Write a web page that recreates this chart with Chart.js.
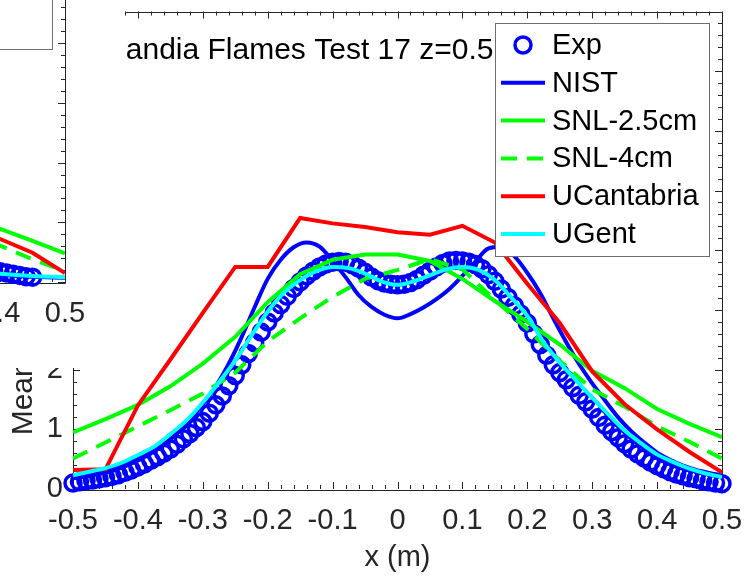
<!DOCTYPE html>
<html>
<head>
<meta charset="utf-8">
<title>Sandia Flames Test 17</title>
<script src="https://cdn.jsdelivr.net/npm/chart.js@4.4.1/dist/chart.umd.min.js"></script>
<style>
  body { margin: 0; background: #fff; }
  #page { position: relative; width: 746px; height: 576px; overflow: hidden; background: #fff; }
  #main { position: absolute; left: 0; top: 0; }
  #side { position: absolute; left: 0; top: 0; width: 125px; height: 368px; overflow: hidden; background: #fff; }
  #prev { position: absolute; left: -657px; top: -207px; }
</style>
</head>
<body>
<div id="page">
  <canvas id="main" width="746" height="576"></canvas>
  <div id="side"><canvas id="prev" width="746" height="576"></canvas></div>
</div>
<script>
// series labels, same for both panels
const seriesNames = ['Exp', 'NIST', 'SNL-2.5cm', 'SNL-4cm', 'UCantabria', 'UGent'];
const titleText = 'Sandia Flames Test 17 z=0.5 m';

// measured profile, z = 0.5 m
const expX = [-0.50, -0.49, -0.48, -0.47, -0.46, -0.45, -0.44, -0.43, -0.42, -0.41,
  -0.40, -0.39, -0.38, -0.37, -0.36, -0.35, -0.34, -0.33, -0.32, -0.31,
  -0.30, -0.29, -0.28, -0.27, -0.26, -0.25, -0.24, -0.23, -0.22, -0.21,
  -0.20, -0.19, -0.18, -0.17, -0.16, -0.15, -0.14, -0.13, -0.12, -0.11,
  -0.10, -0.09, -0.08, -0.07, -0.06, -0.05, -0.04, -0.03, -0.02, -0.01,
  0.00, 0.01, 0.02, 0.03, 0.04, 0.05, 0.06, 0.07, 0.08, 0.09,
  0.10, 0.11, 0.12, 0.13, 0.14, 0.15, 0.16, 0.17, 0.18, 0.19,
  0.20, 0.21, 0.22, 0.23, 0.24, 0.25, 0.26, 0.27, 0.28, 0.29,
  0.30, 0.31, 0.32, 0.33, 0.34, 0.35, 0.36, 0.37, 0.38, 0.39,
  0.40, 0.41, 0.42, 0.43, 0.44, 0.45, 0.46, 0.47, 0.48, 0.49, 0.50];
const expV = [0.10, 0.12, 0.14, 0.15, 0.17, 0.19, 0.21, 0.24, 0.28, 0.32,
  0.37, 0.42, 0.48, 0.54, 0.60, 0.67, 0.75, 0.84, 0.93, 1.03,
  1.13, 1.27, 1.41, 1.56, 1.73, 1.90, 2.08, 2.27, 2.45, 2.63,
  2.80, 2.95, 3.09, 3.23, 3.36, 3.47, 3.57, 3.65, 3.72, 3.77,
  3.80, 3.81, 3.80, 3.76, 3.70, 3.63, 3.55, 3.49, 3.45, 3.43,
  3.42, 3.43, 3.46, 3.51, 3.58, 3.65, 3.72, 3.78, 3.82, 3.83,
  3.82, 3.80, 3.76, 3.69, 3.59, 3.48, 3.35, 3.21, 3.07, 2.93,
  2.78, 2.60, 2.42, 2.24, 2.08, 1.95, 1.83, 1.70, 1.57, 1.46,
  1.34, 1.20, 1.07, 0.96, 0.86, 0.76, 0.67, 0.59, 0.52, 0.45,
  0.39, 0.34, 0.29, 0.25, 0.22, 0.19, 0.17, 0.14, 0.12, 0.10, 0.09];

const nistX = [-0.50, -0.48, -0.46, -0.44, -0.42, -0.40, -0.38, -0.36, -0.34, -0.32,
  -0.30, -0.28, -0.26, -0.24, -0.22, -0.20, -0.18, -0.16, -0.14, -0.12,
  -0.10, -0.08, -0.06, -0.04, -0.02, 0.00, 0.02, 0.04, 0.06, 0.08,
  0.10, 0.12, 0.14, 0.16, 0.18, 0.20, 0.22, 0.24, 0.26, 0.28,
  0.30, 0.32, 0.34, 0.36, 0.38, 0.40, 0.42, 0.44, 0.46, 0.48, 0.50];
const nistV = [0.18, 0.21, 0.25, 0.30, 0.38, 0.48, 0.60, 0.75, 0.93, 1.15,
  1.42, 1.72, 2.10, 2.55, 3.05, 3.52, 3.84, 4.05, 4.13, 4.06,
  3.82, 3.55, 3.25, 3.05, 2.92, 2.86, 2.93, 3.04, 3.18, 3.35,
  3.57, 3.81, 4.03, 4.06, 3.90, 3.62, 3.28, 2.86, 2.46, 2.09,
  1.77, 1.48, 1.20, 0.97, 0.78, 0.61, 0.49, 0.39, 0.32, 0.27, 0.23];

// SNL and UCantabria outputs share a 5 cm spacing
const coarseX = [-0.50, -0.45, -0.40, -0.35, -0.30, -0.25, -0.20, -0.15, -0.10, -0.05,
  0.00, 0.05, 0.10, 0.15, 0.20, 0.25, 0.30, 0.35, 0.40, 0.45, 0.50];
const snl25V = [0.95, 1.17, 1.41, 1.72, 2.10, 2.55, 3.13, 3.60, 3.84, 3.93,
  3.93, 3.82, 3.52, 3.15, 2.80, 2.42, 1.98, 1.69, 1.34, 1.09, 0.87];
const snl4V = [0.51, 0.78, 1.05, 1.32, 1.60, 1.95, 2.47, 2.86, 3.22, 3.52,
  3.67, 3.85, 3.68, 3.17, 2.68, 2.15, 1.67, 1.38, 1.05, 0.79, 0.51];
const ucanV = [0.32, 0.33, 1.40, 2.17, 2.95, 3.72, 3.72, 4.54, 4.45, 4.39,
  4.30, 4.26, 4.41, 4.13, 3.44, 2.78, 1.97, 1.42, 1.00, 0.62, 0.28];

const ugentX = [-0.500, -0.475, -0.450, -0.425, -0.400, -0.375, -0.350, -0.325, -0.300, -0.275,
  -0.250, -0.225, -0.200, -0.175, -0.150, -0.125, -0.100, -0.075, -0.050, -0.025,
  0.000, 0.025, 0.050, 0.075, 0.100, 0.125, 0.150, 0.175, 0.200, 0.225,
  0.250, 0.275, 0.300, 0.325, 0.350, 0.375, 0.400, 0.425, 0.450, 0.475, 0.500];
const ugentV = [0.23, 0.29, 0.35, 0.44, 0.57, 0.71, 0.92, 1.15, 1.45, 1.79,
  2.15, 2.57, 2.97, 3.29, 3.50, 3.65, 3.72, 3.70, 3.61, 3.48,
  3.42, 3.48, 3.58, 3.68, 3.72, 3.67, 3.50, 3.21, 2.90, 2.46,
  2.12, 1.82, 1.53, 1.25, 0.98, 0.77, 0.58, 0.45, 0.34, 0.26, 0.20];

// neighbouring panel, outer edge of its profile
const prevExpX = [0.38, 0.39, 0.40, 0.41, 0.42, 0.43, 0.44, 0.45];
const prevExpV = [0.22, 0.19, 0.17, 0.15, 0.13, 0.11, 0.09, 0.08];
const prevX = [0.35, 0.40, 0.45, 0.50];
const prevNistV = [0.18, 0.12, 0.09, 0.07];
const prevSnl25V = [1.08, 0.89, 0.69, 0.48];
const prevSnl4V = [0.82, 0.61, 0.38, 0.18];
const prevUcanV = [0.95, 0.72, 0.49, 0.15];
const prevUgentV = [0.20, 0.14, 0.10, 0.08];

const axisColor = '#262626';
const fontFamily = "'Liberation Sans', Arial, Helvetica, sans-serif";
Chart.defaults.font.family = fontFamily;

function pts(xs, vs) {
    return xs.map((x, i) => ({ x: x, y: vs[i] }));
}

// box round the axes with inward minor/major ticks on all four sides
const boxAxes = {
    id: 'boxAxes',
    beforeDatasetsDraw(chart) {
        const { ctx, chartArea: a, scales } = chart;
        const sx = scales.x, sy = scales.y;
        ctx.save();
        ctx.strokeStyle = axisColor;
        ctx.lineWidth = 1;
        ctx.beginPath();
        for (let i = 0; i <= 50; i++) {
            const px = Math.round(sx.getPixelForValue(-0.5 + i * 0.02)) + 0.5;
            const len = i % 5 === 0 ? 7 : 4;
            ctx.moveTo(px, a.bottom); ctx.lineTo(px, a.bottom - len);
            ctx.moveTo(px, a.top); ctx.lineTo(px, a.top + len);
        }
        for (let i = 0; i <= 40; i++) {
            const py = Math.round(sy.getPixelForValue(i * 0.2)) + 0.5;
            const len = i % 5 === 0 ? 7 : 4;
            ctx.moveTo(a.left, py); ctx.lineTo(a.left + len, py);
            ctx.moveTo(a.right, py); ctx.lineTo(a.right - len, py);
        }
        ctx.rect(Math.round(a.left) + 0.5, Math.round(a.top) + 0.5,
            Math.round(a.right - a.left), Math.round(a.bottom - a.top));
        ctx.stroke();
        ctx.restore();
    }
};

// text label in the upper left of the axes
const flameTitle = {
    id: 'flameTitle',
    afterDatasetsDraw(chart, args, opts) {
        if (!opts.text) return;
        const { ctx, scales } = chart;
        ctx.save();
        ctx.font = '30px ' + fontFamily;
        ctx.fillStyle = '#000';
        ctx.textAlign = 'left';
        ctx.textBaseline = 'middle';
        ctx.fillText(opts.text, scales.x.getPixelForValue(-0.4495), scales.y.getPixelForValue(7.35));
        ctx.restore();
    }
};

// legend box in the upper right corner
const boxLegend = {
    id: 'boxLegend',
    afterDatasetsDraw(chart) {
        const ctx = chart.ctx;
        const left = 495, top = 23, w = 214, h = 233, rowH = 37.8;
        ctx.save();
        ctx.fillStyle = '#fff';
        ctx.fillRect(left, top, w, h);
        ctx.strokeStyle = '#6e6e6e';
        ctx.lineWidth = 1;
        ctx.strokeRect(left + 0.5, top + 0.5, w, h);
        ctx.font = '29px ' + fontFamily;
        ctx.textBaseline = 'middle';
        chart.data.datasets.forEach((ds, i) => {
            const cy = top + 22 + i * rowH;
            if (ds.showLine === false) {
                ctx.strokeStyle = ds.pointBorderColor;
                ctx.lineWidth = ds.pointBorderWidth;
                ctx.beginPath();
                ctx.arc(523, cy, ds.pointRadius, 0, Math.PI * 2);
                ctx.stroke();
            } else {
                ctx.strokeStyle = ds.borderColor;
                ctx.lineWidth = ds.borderWidth;
                ctx.setLineDash(ds.borderDash || []);
                ctx.beginPath();
                ctx.moveTo(501, cy);
                ctx.lineTo(545, cy);
                ctx.stroke();
                ctx.setLineDash([]);
            }
            ctx.fillStyle = '#000';
            ctx.fillText(ds.label, 552, cy + 1);
        });
        ctx.restore();
    }
};

function lineSet(label, data, color, order, extra) {
    return Object.assign({
        label: label,
        data: data,
        borderColor: color,
        backgroundColor: color,
        borderWidth: 4,
        pointRadius: 0,
        fill: false,
        tension: 0,
        order: order
    }, extra || {});
}

function buildDatasets(exp, nist, snl25, snl4, ucan, ugent) {
    return [
        {
            label: seriesNames[0],
            data: exp,
            showLine: false,
            pointRadius: 8,
            pointBorderWidth: 3.5,
            pointBorderColor: '#0000ff',
            pointBackgroundColor: 'rgba(0,0,0,0)',
            clip: false,
            order: 5
        },
        lineSet(seriesNames[1], nist, '#0000ff', 4, { cubicInterpolationMode: 'monotone' }),
        lineSet(seriesNames[2], snl25, '#00ff00', 3),
        lineSet(seriesNames[3], snl4, '#00ff00', 2, { borderDash: [16, 10] }),
        lineSet(seriesNames[4], ucan, '#ff0000', 1),
        lineSet(seriesNames[5], ugent, '#00ffff', 0, { cubicInterpolationMode: 'monotone' })
    ];
}

function drawChart(canvasId, datasets, title) {
    const tickFont = { size: 29, family: fontFamily };
    return new Chart(document.getElementById(canvasId), {
        type: 'line',
        data: { datasets: datasets },
        options: {
            responsive: false,
            animation: false,
            events: [],
            layout: { padding: { left: 0, right: 24, top: 7, bottom: 0 } },
            plugins: {
                legend: { display: false },
                tooltip: { enabled: false },
                flameTitle: { text: title }
            },
            scales: {
                x: {
                    type: 'linear',
                    min: -0.5,
                    max: 0.5,
                    grid: { display: false, drawTicks: false },
                    border: { display: false },
                    ticks: {
                        stepSize: 0.1,
                        autoSkip: false,
                        maxRotation: 0,
                        padding: 15,
                        color: axisColor,
                        font: tickFont,
                        callback: v => String(Number(v.toFixed(1)))
                    },
                    title: {
                        display: true,
                        text: 'x (m)',
                        color: axisColor,
                        font: tickFont,
                        padding: { top: 0, bottom: 1 }
                    },
                    afterFit(scale) {
                        scale.height = 87;
                        scale.paddingLeft = 0;
                        scale.paddingRight = 0;
                    }
                },
                y: {
                    type: 'linear',
                    min: 0,
                    max: 8,
                    grid: { display: false, drawTicks: false },
                    border: { display: false },
                    ticks: {
                        stepSize: 1,
                        autoSkip: false,
                        padding: 10,
                        color: axisColor,
                        font: tickFont
                    },
                    title: {
                        display: true,
                        text: 'Mean Vertical Velocity (m/s)',
                        color: axisColor,
                        font: { size: 30, family: fontFamily },
                        padding: { top: 6, bottom: 0 }
                    },
                    afterFit(scale) {
                        scale.width = 73;
                        scale.paddingTop = 0;
                        scale.paddingBottom = 0;
                    }
                }
            }
        },
        plugins: [boxAxes, flameTitle, boxLegend]
    });
}

drawChart('prev', buildDatasets(
    pts(prevExpX, prevExpV), pts(prevX, prevNistV), pts(prevX, prevSnl25V),
    pts(prevX, prevSnl4V), pts(prevX, prevUcanV), pts(prevX, prevUgentV)
), null);

drawChart('main', buildDatasets(
    pts(expX, expV), pts(nistX, nistV), pts(coarseX, snl25V),
    pts(coarseX, snl4V), pts(coarseX, ucanV), pts(ugentX, ugentV)
), titleText);
</script>
</body>
</html>
